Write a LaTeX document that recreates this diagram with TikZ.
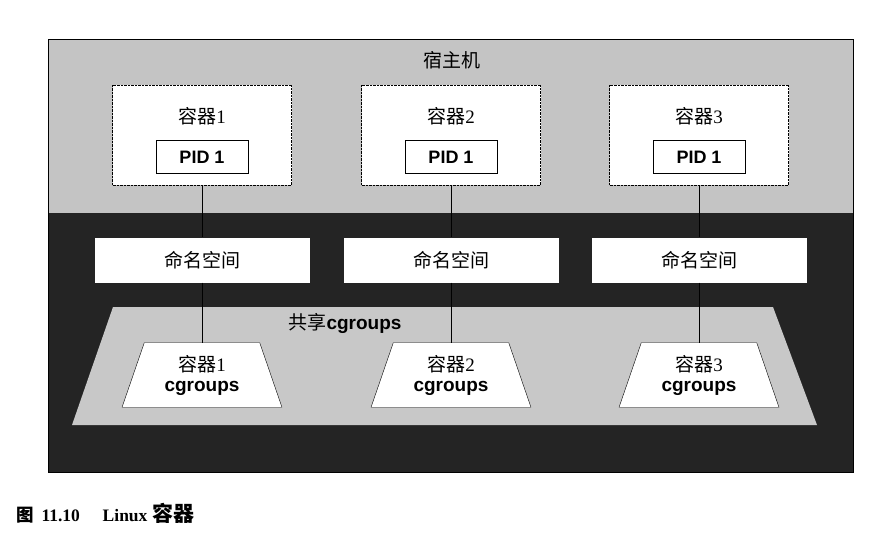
\documentclass[tikz,border=0pt]{standalone}
\usepackage{fontspec}
\usepackage{tikz}
\usetikzlibrary{shapes.geometric}
\setmainfont{Liberation Serif}
\setsansfont{Liberation Sans}
\newfontfamily\cjk{Noto Sans CJK SC}
\definecolor{hostgray}{HTML}{C4C4C4}
\definecolor{sharegray}{HTML}{C8C8C8}
\definecolor{kernelbg}{HTML}{242424}

\begin{document}
\begin{tikzpicture}[x=1pt, y=-1pt, font=\fontsize{19}{23}\selectfont]
                \tikzstyle{ctr} = [draw, densely dotted, fill=white, minimum width=179pt, minimum height=100pt, inner sep=0pt]
                \tikzstyle{pid} = [draw, solid, fill=white, minimum width=92pt, minimum height=33pt, inner sep=0pt, font=\sffamily\bfseries\fontsize{18}{20}\selectfont]
                \tikzstyle{nspace} = [fill=white, minimum width=215pt, minimum height=45pt, inner sep=0pt]
                \tikzstyle{cgrp} = [draw, fill=white, trapezium, trapezium angle=71, minimum width=160pt, minimum height=58pt, inner sep=2pt, align=center]
                \useasboundingbox (0,0) rectangle (890,547);
                \fill[white] (0,0) rectangle (890,547);
                \fill[kernelbg] (48,39) rectangle (853,472);
                \fill[hostgray] (48,39) rectangle (853,213);
                \draw (48,39) rectangle (853,472);
                \fill[sharegray] (113,307) -- (773,307) -- (817,425) -- (72,425) -- cycle;
                \node (host) at (452,60) {\cjk 宿主机};
                \node (shared) at (345,323) {{\cjk 共享}\sffamily\bfseries cgroups};
                \foreach \i/\x in {1/202, 2/451, 3/699} {
                    \node[ctr] (c\i) at (\x,135) {};
                    \node (cname\i) at (\x,116) {{\cjk 容器}\i};
                    \node[pid] (pid\i) at (\x,157) {PID 1};
                    \node[nspace] (ns\i) at (\x,260) {\cjk 命名空间};
                    \node[cgrp] (cg\i) at (\x,375) {{\cjk 容器}\i\\[-3pt]\sffamily\bfseries cgroups};
                    \draw (c\i) -- (ns\i);
                    \draw (ns\i) -- (cg\i);
                }
                \node[anchor=west, inner sep=0pt, font=\bfseries\fontsize{17.5}{20}\selectfont] (caption) at (16,513) {{\cjk 图}\hspace{0.45em}11.10\hspace{1.3em}Linux\hspace{0.3em}{\cjk\fontsize{21}{20}\selectfont 容器}};
            \end{tikzpicture}
\end{document}
